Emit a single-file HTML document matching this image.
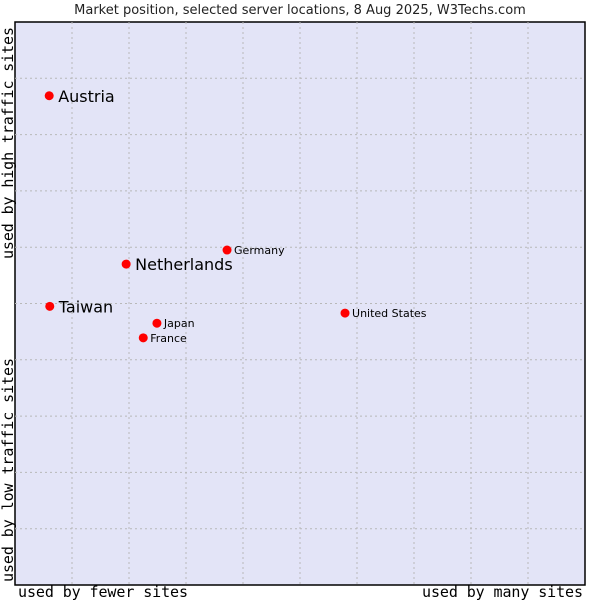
<!DOCTYPE html>
<html><head><meta charset="utf-8"><style>
body{margin:0;background:#fff;width:600px;height:600px;overflow:hidden}
svg{display:block}
</style></head><body>
<svg id="chart" width="600" height="600" xmlns="http://www.w3.org/2000/svg">
<text x="300" y="14" text-anchor="middle" font-family="DejaVu Sans, sans-serif" font-size="13" fill="#222">Market position, selected server locations, 8 Aug 2025, W3Techs.com</text>
<rect x="15" y="22" width="570" height="563" fill="#e3e4f7" stroke="#000" stroke-width="1.5"/>
<g id="grid"></g>
<g id="points"></g>
<text x="18" y="597" textLength="170" font-family="DejaVu Sans Mono, monospace" font-size="15" fill="#000">used by fewer sites</text>
<text x="422" y="597" textLength="161" font-family="DejaVu Sans Mono, monospace" font-size="15" fill="#000">used by many sites</text>
<text transform="translate(13,259) rotate(-90)" textLength="232" font-family="DejaVu Sans Mono, monospace" font-size="15" fill="#000">used by high traffic sites</text>
<text transform="translate(13,582) rotate(-90)" textLength="224" font-family="DejaVu Sans Mono, monospace" font-size="15" fill="#000">used by low traffic sites</text>
</svg>
<script>
const countries=["Austria","Netherlands","Taiwan","Germany","Japan","France","United States"];
const xValues=[6.0,19.5,6.1,37.2,24.9,22.5,57.9];
const yValues=[86.9,57.0,49.5,59.5,46.5,43.9,48.3];
const bigLabel=[true,true,true,false,false,false,false];
const NS="http://www.w3.org/2000/svg";
const L=15,T=22,W=570,H=563;
const sx=v=>L+v/100*W, sy=v=>T+H-v/100*H;
const grid=document.getElementById('grid');
for(let i=1;i<10;i++){
  const a=document.createElementNS(NS,'line');
  a.setAttribute('x1',sx(i*10));a.setAttribute('x2',sx(i*10));a.setAttribute('y1',T);a.setAttribute('y2',T+H);
  a.setAttribute('stroke','#b8b8b8');a.setAttribute('stroke-dasharray','2,3');
  
  
  grid.appendChild(a);
  const b=document.createElementNS(NS,'line');
  b.setAttribute('y1',sy(i*10));b.setAttribute('y2',sy(i*10));b.setAttribute('x1',L);b.setAttribute('x2',L+W);
  b.setAttribute('stroke','#b8b8b8');b.setAttribute('stroke-dasharray','2,3');
  
  
  grid.appendChild(b);
}
const pts=document.getElementById('points');
countries.forEach((c,i)=>{
  const x=sx(xValues[i]),y=sy(yValues[i]);
  const p=document.createElementNS(NS,'circle');
  p.setAttribute('cx',x);p.setAttribute('cy',y);p.setAttribute('r',4.5);
  p.setAttribute('fill','#f00');
  
  
  pts.appendChild(p);
  const t=document.createElementNS(NS,'text');
  t.setAttribute('x',x+(bigLabel[i]?9:7));
  t.setAttribute('y',y+(bigLabel[i]?6:4));
  t.setAttribute('font-family','DejaVu Sans, sans-serif');
  t.setAttribute('font-size',bigLabel[i]?16:11);
  t.setAttribute('fill','#000');
  t.textContent=c;
  
  
  pts.appendChild(t);
});
</script>
</body></html>
